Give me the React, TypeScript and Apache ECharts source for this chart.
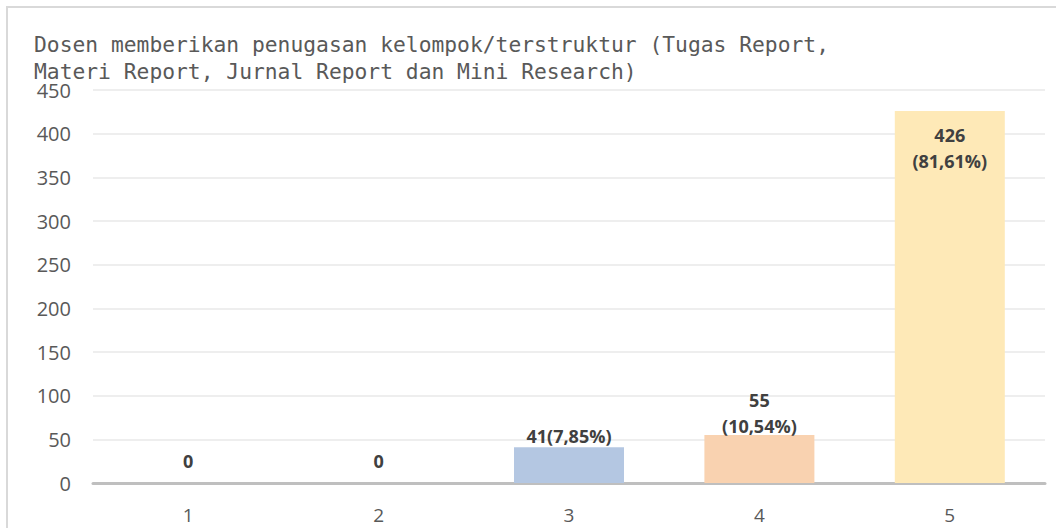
import React, { useEffect, useRef } from "react";
import * as echarts from "echarts";

const categories = ["1", "2", "3", "4", "5"];
const values = [0, 0, 41, 55, 426];
const labels = ["0", "0", "41(7,85%)", "55\n(10,54%)", "426\n(81,61%)"];
const colors = ["#b4c7e2", "#b4c7e2", "#b4c7e2", "#f9d2b0", "#fee9b7"];
const yTicks = [0, 50, 100, 150, 200, 250, 300, 350, 400, 450];
const titleText = "Dosen memberikan penugasan kelompok/terstruktur (Tugas Report,\nMateri Report, Jurnal Report dan Mini Research)";

export default function App() {
  const ref = useRef<HTMLDivElement>(null);
  useEffect(() => {
    if (!ref.current) return;
    const chart = echarts.init(ref.current, null, { renderer: "svg" });
    const tickFont = "'Open Sans', sans-serif";
    chart.setOption({
      animation: false,
      title: {
        text: titleText,
        left: 21,
        top: 18,
        textStyle: {
          fontFamily: "'DejaVu Sans Mono', monospace",
          fontWeight: "normal",
          fontSize: 21.3,
          color: "#595959",
          lineHeight: 27,
        },
      },
      grid: { left: 85, right: 19, top: 82, bottom: 61 },
      xAxis: {
        type: "category",
        data: categories,
        axisLine: { lineStyle: { color: "#bfbfbf", width: 3 } },
        axisTick: { show: false },
        axisLabel: { fontFamily: tickFont, fontSize: 19, color: "#595959", margin: 22 },
      },
      yAxis: {
        type: "value",
        min: yTicks[0],
        max: yTicks[yTicks.length - 1],
        interval: 50,
        axisLine: { show: false },
        axisTick: { show: false },
        splitLine: { lineStyle: { color: "#eeeeee", width: 2 } },
        axisLabel: { fontFamily: tickFont, fontSize: 20, color: "#595959", margin: 22 },
      },
      series: [
        {
          type: "bar",
          barWidth: 110,
          data: values.map((v, i) => ({
            value: v,
            itemStyle: { color: colors[i] },
            label: {
              show: true,
              formatter: labels[i],
              position: i === 4 ? "insideTop" : "top",
              distance: i < 2 ? 9 : i === 4 ? 11 : i === 3 ? -4 : -2,
              fontFamily: tickFont,
              fontWeight: "bold",
              fontSize: 18,
              lineHeight: 26,
              color: "#404040",
            },
          })),
        },
      ],
    });
    return () => chart.dispose();
  }, []);
  return (
    <div
      ref={ref}
      style={{
        position: "fixed",
        left: 6,
        top: 6,
        width: 1060,
        height: 540,
        border: "2px solid #d9d9d9",
        boxSizing: "border-box",
        background: "#fff",
      }}
    />
  );
}
